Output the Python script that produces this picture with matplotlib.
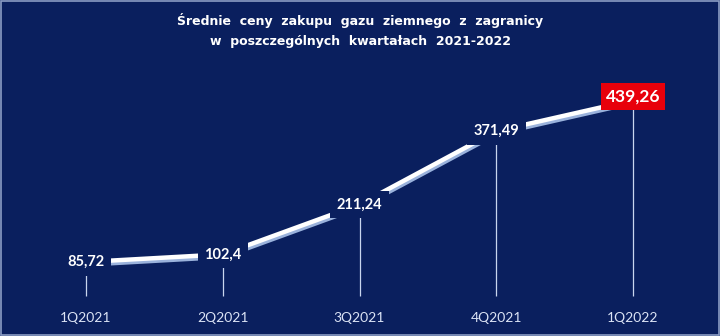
import matplotlib
matplotlib.use("Agg")
import matplotlib.pyplot as plt
import matplotlib.transforms as mtransforms
from matplotlib.patches import Rectangle

# dane
quarters = ["1Q2021", "2Q2021", "3Q2021", "4Q2021", "1Q2022"]
prices = [85.72, 102.4, 211.24, 371.49, 439.26]
price_labels = ["85,72", "102,4", "211,24", "371,49", "439,26"]

bg = "#0a1f5e"

fig = plt.figure(figsize=(7.2, 3.36), dpi=100, facecolor=bg)
ax = fig.add_axes([0, 0, 1, 1])
ax.set_facecolor(bg)
ax.set_xlim(-0.629, 4.636)
ax.set_ylim(-75.9, 657.8)
ax.axis("off")

x = list(range(len(quarters)))

# linie pionowe od punktu w dol
ax.vlines(x, 12, prices, color="#c9d5ee", lw=0.9, zorder=1)

# linia z efektem 3D (cien pod spodem)
shadow = mtransforms.offset_copy(ax.transData, fig=fig, x=0.5, y=-1.6, units="points")
ax.plot(x, prices, color="#9ab2dc", lw=3.8, solid_capstyle="butt", transform=shadow, zorder=2)
ax.plot(x, prices, color="white", lw=3.2, solid_capstyle="butt", zorder=3)

# etykiety wartosci
for i in range(len(quarters) - 1):
    ax.text(x[i], prices[i], price_labels[i], color="white", fontsize=10.5, fontweight="bold",
            family="Lato", ha="center", va="center", zorder=5,
            bbox=dict(boxstyle="square,pad=0.45", fc=bg, ec="none"))
ax.text(x[-1], prices[-1] + 8, price_labels[-1], color="white", fontsize=12.5, fontweight="bold",
        family="Lato", ha="center", va="center", zorder=5,
        bbox=dict(boxstyle="square,pad=0.3", fc="#e8000b", ec="none"))

# podpisy kwartalow
for i, q in enumerate(quarters):
    ax.text(x[i], -37, q, color="#dbe3f5", fontsize=10, family="Lato",
            ha="center", va="center")

# tytul
fig.text(0.5, 0.94, "Średnie  ceny  zakupu  gazu  ziemnego  z  zagranicy",
         color="white", fontsize=9, fontweight="bold", ha="center", va="center")
fig.text(0.5, 0.875, "w  poszczególnych  kwartałach  2021-2022",
         color="white", fontsize=9, fontweight="bold", ha="center", va="center")

# ramka
fig.patches.append(Rectangle((0.001, 0.002), 0.997, 0.995, transform=fig.transFigure,
                             fill=False, ec="#8b9cc4", lw=1.2))

fig.savefig("out.png", dpi=100, facecolor=bg)
